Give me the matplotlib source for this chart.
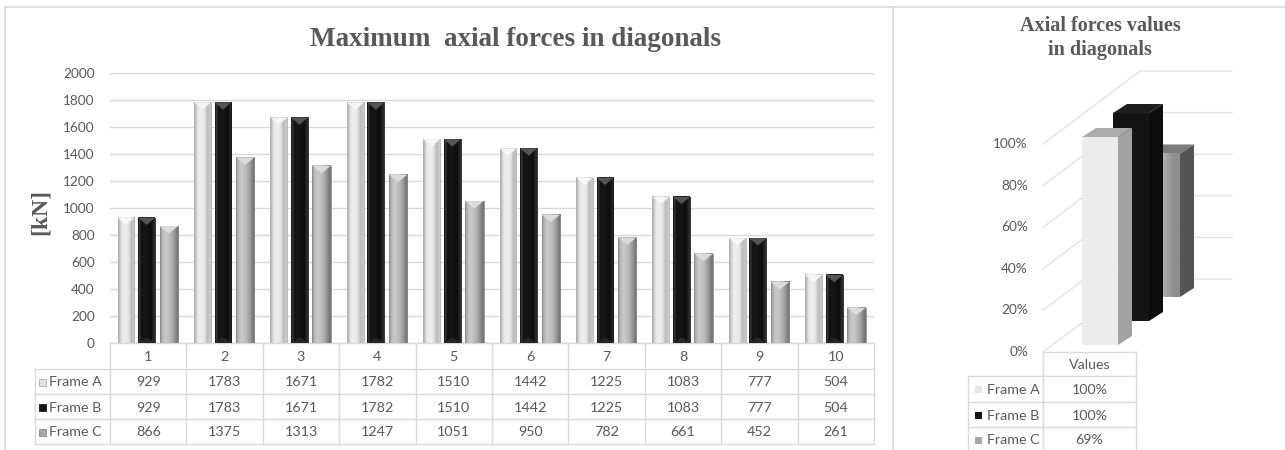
import numpy as np
import matplotlib
matplotlib.use("Agg")
import matplotlib.pyplot as plt
from matplotlib.patches import Polygon, Rectangle
from matplotlib.transforms import blended_transform_factory
from matplotlib.colors import to_rgb

# ---- data -------------------------------------------------------------
categories = ["1", "2", "3", "4", "5", "6", "7", "8", "9", "10"]
series_names = ["Frame A", "Frame B", "Frame C"]
frame_a = [929, 1783, 1671, 1782, 1510, 1442, 1225, 1083, 777, 504]
frame_b = [929, 1783, 1671, 1782, 1510, 1442, 1225, 1083, 777, 504]
frame_c = [866, 1375, 1313, 1247, 1051, 950, 782, 661, 452, 261]
y_ticks = [0, 200, 400, 600, 800, 1000, 1200, 1400, 1600, 1800, 2000]

share_values = [100, 100, 69]          # percent of the maximum
share_ticks = [0, 20, 40, 60, 80, 100]
share_header = "Values"

# ---- style ------------------------------------------------------------
TXT = "#595959"
GRID = "#d9d9d9"
SERIF = "Liberation Serif"
SANS = "Lato"
TFS = 10.3  # table / tick font size

# horizontal shading profiles (left -> right) giving the bevelled look
profiles = [
    ["#b8b8b8", "#e4e4e4", "#eeeeee", "#ececec", "#e2e2e2", "#bcbcbc", "#c8c8c8"],
    ["#3a3a3a", "#121212", "#161616", "#141414", "#111111", "#0e0e0e", "#2a2a2a"],
    ["#a8a8a8", "#c6c6c6", "#c8c8c8", "#bcbcbc", "#acacac", "#939393", "#767676"],
]
cap_colors = ["#f6f6f6", "#555555", "#dcdcdc"]
key_colors = ["#e4e4e4", "#141414", "#a8a8a8"]
key_edges = ["#b0b0b0", "#141414", "#8a8a8a"]

W, H = 1285, 450
fig = plt.figure(figsize=(W / 100, H / 100), dpi=100)
fig.patch.set_facecolor("white")

# full-figure overlay in pixel units for frames, titles and table rules
ov = fig.add_axes([0, 0, 1, 1])
ov.set_xlim(0, W)
ov.set_ylim(H, 0)
ov.axis("off")

# outer frames
ov.plot([5, W], [7, 7], color=GRID, lw=1.2)
ov.plot([5, 5], [7, H], color=GRID, lw=1.2)
ov.plot([893, 893], [7, H], color=GRID, lw=1.2)

# ---- left chart: clustered columns -----------------------------------
x0, x1 = 110, 874
y_zero, y_top = 343, 73
ax = fig.add_axes([x0 / W, (H - y_zero) / H, (x1 - x0) / W, (y_zero - y_top) / H])
ax.patch.set_visible(False)
for sp in ax.spines.values():
    sp.set_visible(False)
ax.set_yticks(y_ticks)
ax.set_xticks([])
ax.grid(axis="y", color=GRID, lw=1)
ax.set_axisbelow(True)
ax.tick_params(axis="y", length=0, pad=11, labelcolor=TXT, labelsize=9.8)
for lab in ax.get_yticklabels():
    lab.set_fontfamily(SANS)

series = [frame_a, frame_b, frame_c]
offsets = [-0.29, -0.02, 0.27]
widths = [0.22, 0.22, 0.24]
cap_h = 55  # depth of the bevel cap in value units

for s, vals in enumerate(series):
    prof = np.array([[to_rgb(c) for c in profiles[s]]])
    w = widths[s]
    for i, v in enumerate(vals):
        c = i + offsets[s]
        ax.imshow(prof, extent=(c - w / 2, c + w / 2, 0, v), aspect="auto",
                  interpolation="bilinear", zorder=2)
        ax.add_patch(Rectangle((c - w / 2, 0), w, v, fill=False,
                               ec=key_edges[s], lw=0.6, zorder=3))
        ax.add_patch(Polygon([(c - w / 2, v), (c + w / 2, v), (c, v - cap_h)],
                             closed=True, fc=cap_colors[s], ec="none", zorder=3))
        if s == 1:
            ax.add_patch(Polygon([(c - w / 2, 0), (c + w / 2, 0), (c, cap_h * 0.8)],
                                 closed=True, fc="#262626", ec="none", zorder=3))

ax.set_xlim(-0.5, len(categories) - 0.5)
ax.set_ylim(0, 2000)

# data table under the columns
tr = blended_transform_factory(ax.transData, ov.transData)
row_edges = [343, 369, 394, 419, 444]
for b in np.arange(len(categories) + 1) - 0.5:
    ov.plot([b, b], [row_edges[0], row_edges[-1]], color=GRID, lw=1, transform=tr)
ov.plot([-0.5, len(categories) - 0.5], [row_edges[0]] * 2, color=GRID, lw=1, transform=tr)
for ry in row_edges[1:]:
    ov.plot([35, x1], [ry, ry], color=GRID, lw=1)
ov.plot([35, 35], [row_edges[1], row_edges[-1]], color=GRID, lw=1)

def mid(k):
    return (row_edges[k] + row_edges[k + 1]) / 2

for i, cat in enumerate(categories):
    ov.text(i, mid(0) + 1, cat, transform=tr, ha="center", va="center",
            fontsize=TFS, color=TXT, family=SANS)
for s, vals in enumerate(series):
    yy = mid(s + 1) + 1
    ov.add_patch(Rectangle((39, yy - 4), 7, 7, fc=key_colors[s], ec=key_edges[s], lw=0.6))
    ov.text(49, yy, series_names[s], ha="left", va="center", fontsize=TFS,
            color=TXT, family=SANS)
    for i, v in enumerate(vals):
        ov.text(i, yy, str(v), transform=tr, ha="center", va="center",
                fontsize=TFS, color=TXT, family=SANS)

ov.text(515, 40, "Maximum  axial forces in diagonals", ha="center", va="center",
        fontsize=19.5, weight="bold", family=SERIF, color=TXT)
ov.text(40, 212, "[kN]", rotation=90, ha="center", va="center",
        fontsize=17, weight="bold", family=SERIF, color=TXT)

# ---- right chart: 3-D columns in oblique projection -------------------
bx0, bx1, by0, by1 = 968, 1285, 40, 352
ax3 = fig.add_axes([bx0 / W, (H - by1) / H, (bx1 - bx0) / W, (by1 - by0) / H])
ax3.axis("off")

px = 1 / 2.08                 # one pixel in percent units
wall_dx, wall_dy = 97, 73 * px
wall_x0, wall_x1 = 75, 264
for t in share_ticks:
    ax3.plot([wall_x0, wall_x0 + wall_dx, wall_x1], [t, t + wall_dy, t + wall_dy],
             color="#e3e3e3", lw=1, zorder=1)
    ax3.text(60, t, f"{t}%", ha="right", va="center", fontsize=9.8,
             color=TXT, family=SANS)

front_w = 36
side_dx, side_dy = 14, 9 * px
step_dx, step_dy = 31, 24 * px
base_x, base_y = 114, 7 * px
front3 = [None, "#141414", None]
side3 = ["#a2a2a2", "#0c0c0c", "#555555"]
top3 = ["#ababab", "#1e1e1e", "#7c7c7c"]
front_prof = [["#ececec", "#ebebeb"], None, ["#cfcfcf", "#b4b4b4", "#8e8e8e"]]

for s in reversed(range(len(share_values))):
    v = share_values[s]
    fx = base_x + step_dx * s
    fy = base_y + step_dy * s
    z = 2 + 3 * (2 - s)
    # side face
    ax3.add_patch(Polygon([(fx + front_w, fy), (fx + front_w + side_dx, fy + side_dy),
                           (fx + front_w + side_dx, fy + v + side_dy), (fx + front_w, fy + v)],
                          closed=True, fc=side3[s], ec="none", zorder=z))
    # top face
    ax3.add_patch(Polygon([(fx, fy + v), (fx + front_w, fy + v),
                           (fx + front_w + side_dx, fy + v + side_dy), (fx + side_dx, fy + v + side_dy)],
                          closed=True, fc=top3[s], ec="none", zorder=z))
    # front face
    if front_prof[s] is None:
        ax3.add_patch(Rectangle((fx, fy), front_w, v, fc=front3[s], ec="none", zorder=z + 1))
    else:
        prof = np.array([[to_rgb(c) for c in front_prof[s]]])
        ax3.imshow(prof, extent=(fx, fx + front_w, fy, fy + v), aspect="auto",
                   interpolation="bilinear", zorder=z + 1)

ax3.set_xlim(0, bx1 - bx0)
ax3.set_ylim(0, (by1 - by0) / 2.08)

# table under the 3-D chart
rt_rows = [352, 376, 402, 427, 452]
rx0, rx1, rx2 = 968, 1043, 1136
ov.plot([rx1, rx2], [rt_rows[0]] * 2, color=GRID, lw=1)
for ry in rt_rows[1:-1]:
    ov.plot([rx0, rx2], [ry, ry], color=GRID, lw=1)
ov.plot([rx1, rx1], [rt_rows[0], H], color=GRID, lw=1)
ov.plot([rx2, rx2], [rt_rows[0], H], color=GRID, lw=1)
ov.plot([rx0, rx0], [rt_rows[1], H], color=GRID, lw=1)
ov.text((rx1 + rx2) / 2, (rt_rows[0] + rt_rows[1]) / 2 + 1, share_header,
        ha="center", va="center", fontsize=TFS, color=TXT, family=SANS)
for s, v in enumerate(share_values):
    yy = (rt_rows[s + 1] + rt_rows[s + 2]) / 2 + 1
    ov.add_patch(Rectangle((975, yy - 4), 7, 7, fc=key_colors[s], ec="none"))
    ov.text(987, yy, series_names[s], ha="left", va="center", fontsize=TFS,
            color=TXT, family=SANS)
    ov.text((rx1 + rx2) / 2, yy, f"{v}%", ha="center", va="center",
            fontsize=TFS, color=TXT, family=SANS)

ov.text(1100, 26, "Axial forces values", ha="center", va="center",
        fontsize=14.5, weight="bold", family=SERIF, color=TXT)
ov.text(1100, 50, "in diagonals", ha="center", va="center",
        fontsize=14.5, weight="bold", family=SERIF, color=TXT)

fig.savefig("out.png", dpi=100, facecolor="white")
